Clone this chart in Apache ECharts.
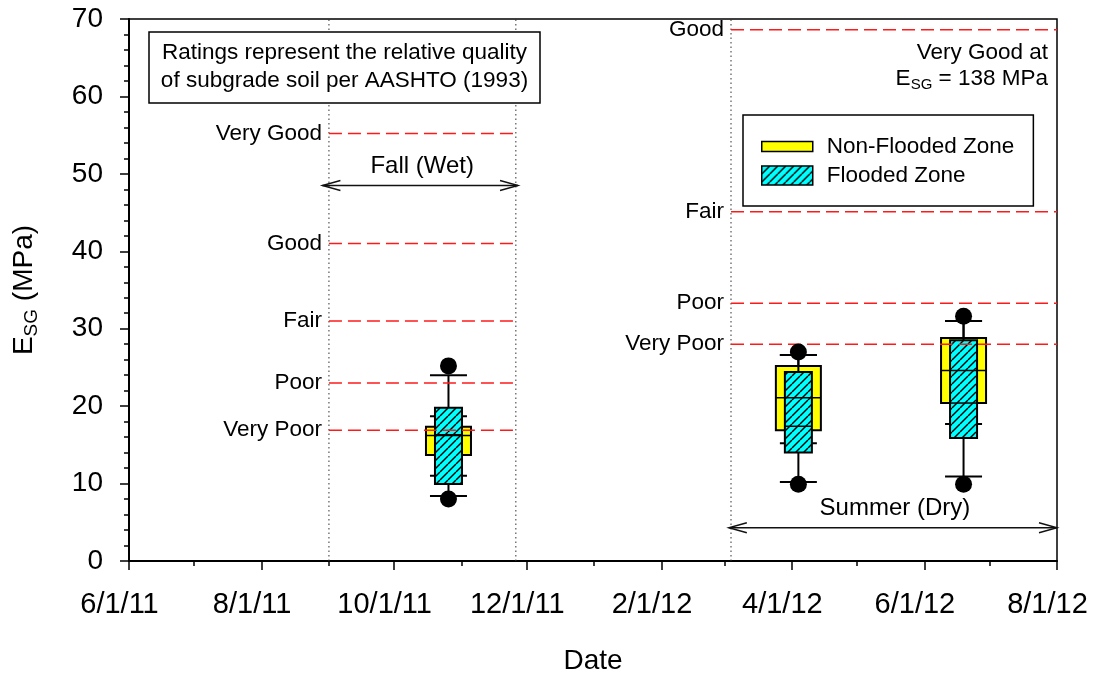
<!DOCTYPE html>
<html><head><meta charset="utf-8">
<script src="https://cdn.jsdelivr.net/npm/echarts@6/dist/echarts.min.js"></script>
<style>html,body{margin:0;padding:0;background:#fff}#c{width:1097px;height:675px}</style>
</head><body><div id="c"></div>
<script>
const FONT = "'Liberation Sans', Arial, Helvetica, sans-serif";

// ---- axis data ----
const xRange = ['2011-06-01', '2012-08-01'];
const xLabelDates = ['2011-06-01','2011-08-01','2011-10-01','2011-12-01','2012-02-01','2012-04-01','2012-06-01','2012-08-01'];
const xMinorDates = ['2011-07-01','2011-09-01','2011-11-01','2012-01-01','2012-03-01','2012-05-01','2012-07-01'];
const yMin = 0, yMax = 70, yInterval = 10;

// ---- box plot data: [low whisker, Q1, median, Q3, high whisker] ----
const boxDates = ['2011-10-26', '2012-04-04', '2012-06-19'];
const nonFlooded = [
  [11.0, 13.7, 16.2, 17.35, 18.7],
  [15.2, 16.9, 21.1, 25.2, 26.6],
  [17.7, 20.4, 24.6, 28.8, 31.0]
];
const flooded = [
  [8.4, 9.95, 16.3, 19.8, 24.0],
  [10.2, 14.0, 17.4, 24.4, 26.6],
  [10.9, 15.9, 20.4, 28.5, 31.0]
];
const outlierDates = ['2011-10-26','2011-10-26','2012-04-04','2012-04-04','2012-06-19','2012-06-19'];
const outlierValues = [25.2, 8.0, 27.0, 9.9, 31.6, 9.9];

// ---- season dividers and AASHTO ratings ----
const seasonDividers = ['2011-09-01', '2011-11-26', '2012-03-04'];
const fallPeriod = ['2011-09-01', '2011-11-26'];
const fallRatingNames = ['Very Good', 'Good', 'Fair', 'Poor', 'Very Poor'];
const fallRatingValues = [55.2, 41.0, 31.0, 23.0, 16.9];
const summerPeriod = ['2012-03-04', '2012-08-01'];
const summerRatingNames = ['Good', 'Fair', 'Poor', 'Very Poor'];
const summerRatingValues = [68.6, 45.1, 33.3, 28.0];

const seasonNames = ['Fall (Wet)', 'Summer (Dry)'];
const seasonStart = ['2011-08-29', '2012-03-03'];
const seasonEnd = ['2011-11-27', '2012-08-01'];
const seasonArrowLevel = [48.5, 4.3];

// ---- helpers ----
function ts(s) { const p = s.split('-').map(Number); return Date.UTC(p[0], p[1] - 1, p[2]); }
function fmt(v) { const d = new Date(v); return (d.getUTCMonth() + 1) + '/' + d.getUTCDate() + '/' + String(d.getUTCFullYear()).slice(2); }

function makeHatch(w, h) {
  const c = document.createElement('canvas');
  c.width = w; c.height = h;
  const g = c.getContext('2d');
  g.fillStyle = '#00ffff'; g.fillRect(0, 0, w, h);
  g.strokeStyle = '#000'; g.lineWidth = 1.4;
  for (let k = -h; k < w + h; k += 8) {
    g.beginPath(); g.moveTo(k, h); g.lineTo(k + h, 0); g.stroke();
  }
  return c;
}
const hatchTile = makeHatch(8, 8);
const hatch = { image: hatchTile, repeat: 'repeat' };

const ratingRows = [];
fallRatingNames.forEach((n, i) => ratingRows.push({ value: [ts(fallPeriod[0]), ts(fallPeriod[1]), fallRatingValues[i]], label: n }));
summerRatingNames.forEach((n, i) => ratingRows.push({ value: [ts(summerPeriod[0]), ts(summerPeriod[1]), summerRatingValues[i]], label: n }));

function boxRender(boxW, fill, zBox) {
  return function (params, api) {
    const x = api.coord([api.value(0), 0])[0];
    const Y = v => api.coord([api.value(0), v])[1];
    const lo = Y(api.value(1)), q1 = Y(api.value(2)), med = Y(api.value(3)), q3 = Y(api.value(4)), hi = Y(api.value(5));
    const capW = 37, lw = 2;
    const ls = { stroke: '#000', lineWidth: lw };
    return { type: 'group', children: [
      { type: 'line', z2: zBox, shape: { x1: x, y1: q3, x2: x, y2: hi }, style: ls },
      { type: 'line', z2: zBox, shape: { x1: x, y1: q1, x2: x, y2: lo }, style: ls },
      { type: 'line', z2: zBox, shape: { x1: x - capW / 2, y1: hi, x2: x + capW / 2, y2: hi }, style: ls },
      { type: 'line', z2: zBox, shape: { x1: x - capW / 2, y1: lo, x2: x + capW / 2, y2: lo }, style: ls },
      { type: 'rect', z2: zBox, shape: { x: x - boxW / 2, y: q3, width: boxW, height: q1 - q3 }, style: { fill: fill, stroke: '#000', lineWidth: lw } },
      { type: 'line', z2: 5, shape: { x1: x - boxW / 2, y1: med, x2: x + boxW / 2, y2: med }, style: { stroke: '#000', lineWidth: 1.5 } }
    ] };
  };
}

const chart = echarts.init(document.getElementById('c'), null, { renderer: 'canvas' });
const option = {
  animation: false,
  backgroundColor: '#fff',
  textStyle: { fontFamily: FONT },
  grid: { left: 129, right: 40, top: 19, bottom: 114, containLabel: false, outerBoundsMode: 'none',
          show: true, borderColor: '#000', borderWidth: 1.5, backgroundColor: 'transparent' },
  legend: {
    orient: 'vertical', left: 743, top: 115, padding: [20, 19, 19, 18], itemGap: 6,
    itemWidth: 51, itemHeight: 19, backgroundColor: '#fff', borderColor: '#000', borderWidth: 1.5, borderRadius: 0,
    selectedMode: false,
    textStyle: { fontSize: 22.5, fontFamily: FONT, color: '#000', padding: [0, 0, 0, 9] },
    data: [
      { name: 'Non-Flooded Zone', icon: 'path://M0,0M51,19M0,4.5L51,4.5L51,14.5L0,14.5Z', itemStyle: { color: '#ffff00', borderColor: '#000', borderWidth: 1.5 } },
      { name: 'Flooded Zone', icon: 'rect', itemStyle: { color: hatch, borderColor: '#000', borderWidth: 1.5 } }
    ]
  },
  xAxis: [{
    type: 'value', min: ts(xRange[0]), max: ts(xRange[1]), position: 'bottom',
    name: 'Date', nameLocation: 'middle', nameGap: 86,
    nameTextStyle: { fontSize: 28, fontFamily: FONT, color: '#000' },
    axisLine: { show: true, lineStyle: { color: '#000', width: 2 } },
    axisTick: { show: true, length: 9, lineStyle: { color: '#000', width: 1.5 }, customValues: xLabelDates.map(ts) },
    axisLabel: { show: true, margin: 29, fontSize: 29, fontFamily: FONT, color: '#000', formatter: fmt, padding: [0, 19, 0, 0], customValues: xLabelDates.map(ts) },
    splitLine: { show: false }
  }, {
    type: 'value', min: ts(xRange[0]), max: ts(xRange[1]), position: 'bottom', gridIndex: 0,
    axisLine: { show: false },
    axisTick: { show: true, length: 5, lineStyle: { color: '#000', width: 1.5 }, customValues: xMinorDates.map(ts) },
    axisLabel: { show: false },
    splitLine: { show: false }
  }],
  yAxis: {
    type: 'value', min: yMin, max: yMax, interval: yInterval,
    name: '{e|E}{s|SG}{e| (MPa)}', nameLocation: 'middle', nameGap: 88, nameRotate: 90,
    nameTextStyle: { rich: {
      e: { fontSize: 28, fontFamily: FONT, color: '#000', lineHeight: 34, verticalAlign: 'middle' },
      s: { fontSize: 19, fontFamily: FONT, color: '#000', lineHeight: 20, verticalAlign: 'bottom' }
    } },
    axisLine: { show: true, lineStyle: { color: '#000', width: 2 } },
    axisTick: { show: true, length: 9, lineStyle: { color: '#000', width: 1.5 } },
    minorTick: { show: true, splitNumber: 5, length: 5, lineStyle: { color: '#000', width: 1.5 } },
    axisLabel: { margin: 26, fontSize: 28, fontFamily: FONT, color: '#000' },
    splitLine: { show: false }
  },
  graphic: [
    { type: 'rect', z: 10, shape: { x: 149, y: 32, width: 391, height: 71 }, style: { fill: '#fff', stroke: '#000', lineWidth: 1.5 } },
    { type: 'text', z: 11, x: 344.5, y: 67, style: { text: 'Ratings represent the relative quality\nof subgrade soil per AASHTO (1993)', align: 'center', verticalAlign: 'middle', font: '22.5px ' + FONT, lineHeight: 28, fill: '#000' } },
    { type: 'text', z: 11, x: 1048, y: 53, style: { text: 'Very Good at', align: 'right', verticalAlign: 'middle', font: '22.5px ' + FONT, fill: '#000' } },
    { type: 'text', z: 11, x: 1048, y: 79, style: { text: '{e|E}{s|SG}{e| = 138 MPa}', align: 'right', verticalAlign: 'middle',
      rich: { e: { fontSize: 22.5, fontFamily: FONT, fill: '#000', lineHeight: 26, verticalAlign: 'middle' },
              s: { fontSize: 15, fontFamily: FONT, fill: '#000', lineHeight: 14, verticalAlign: 'bottom' } } } }
  ],
  series: [
    {
      type: 'custom', name: 'dividers', z: 1, silent: true,
      data: seasonDividers.map(d => [ts(d)]),
      encode: { x: 0 },
      renderItem: (params, api) => {
        const p1 = api.coord([api.value(0), yMin]), p2 = api.coord([api.value(0), yMax]);
        return { type: 'line', shape: { x1: p1[0], y1: p1[1], x2: p2[0], y2: p2[1] }, style: { stroke: '#333', lineWidth: 1, lineDash: [1.5, 3] } };
      }
    },
    {
      type: 'custom', name: 'Non-Flooded Zone', z: 2, silent: true,
      itemStyle: { color: '#ffff00' },
      data: boxDates.map((d, i) => [ts(d)].concat(nonFlooded[i])),
      encode: { x: 0, y: [1, 2, 3, 4, 5] },
      renderItem: boxRender(45, '#ffff00', 1)
    },
    {
      type: 'custom', name: 'Flooded Zone', z: 2, silent: true,
      itemStyle: { color: '#00ffff' },
      data: boxDates.map((d, i) => [ts(d)].concat(flooded[i])),
      encode: { x: 0, y: [1, 2, 3, 4, 5] },
      renderItem: boxRender(27, hatch, 2)
    },
    {
      type: 'custom', name: 'ratings', z: 4, silent: true,
      data: ratingRows.map(r => r.value),
      encode: { x: [0, 1], y: 2 },
      renderItem: (params, api) => {
        const p1 = api.coord([api.value(0), api.value(2)]), p2 = api.coord([api.value(1), api.value(2)]);
        return { type: 'group', children: [
          { type: 'line', shape: { x1: p1[0], y1: p1[1], x2: p2[0], y2: p2[1] }, style: { stroke: '#ff1a1a', lineWidth: 1.5, lineDash: [13, 6] } },
          { type: 'text', style: { text: ratingRows[params.dataIndex].label, x: p1[0] - 7, y: p1[1], align: 'right', verticalAlign: 'middle', font: '22.5px ' + FONT, fill: '#000' } }
        ] };
      }
    },
    {
      type: 'custom', name: 'seasons', z: 4, silent: true,
      data: seasonNames.map((n, i) => [ts(seasonStart[i]), ts(seasonEnd[i]), seasonArrowLevel[i]]),
      encode: { x: [0, 1], y: 2 },
      renderItem: (params, api) => {
        const p1 = api.coord([api.value(0), api.value(2)]), p2 = api.coord([api.value(1), api.value(2)]);
        const L = 18, H = 5, st = { stroke: '#111', lineWidth: 1.4, fill: 'none' };
        return { type: 'group', children: [
          { type: 'line', shape: { x1: p1[0], y1: p1[1], x2: p2[0], y2: p2[1] }, style: st },
          { type: 'polyline', shape: { points: [[p1[0] + L, p1[1] - H], [p1[0], p1[1]], [p1[0] + L, p1[1] + H]] }, style: st },
          { type: 'polyline', shape: { points: [[p2[0] - L, p2[1] - H], [p2[0], p2[1]], [p2[0] - L, p2[1] + H]] }, style: st },
          { type: 'text', style: { text: seasonNames[params.dataIndex], x: (p1[0] + p2[0]) / 2 + 2, y: p1[1] - 19, align: 'center', verticalAlign: 'middle', font: '24px ' + FONT, fill: '#000' } }
        ] };
      }
    },
    {
      type: 'scatter', name: 'outliers', z: 5, silent: true,
      symbol: 'circle', symbolSize: 17,
      itemStyle: { color: '#000', opacity: 1 },
      data: outlierDates.map((d, i) => [ts(d), outlierValues[i]])
    }
  ]
};
chart.setOption(option);
</script>
</body></html>
